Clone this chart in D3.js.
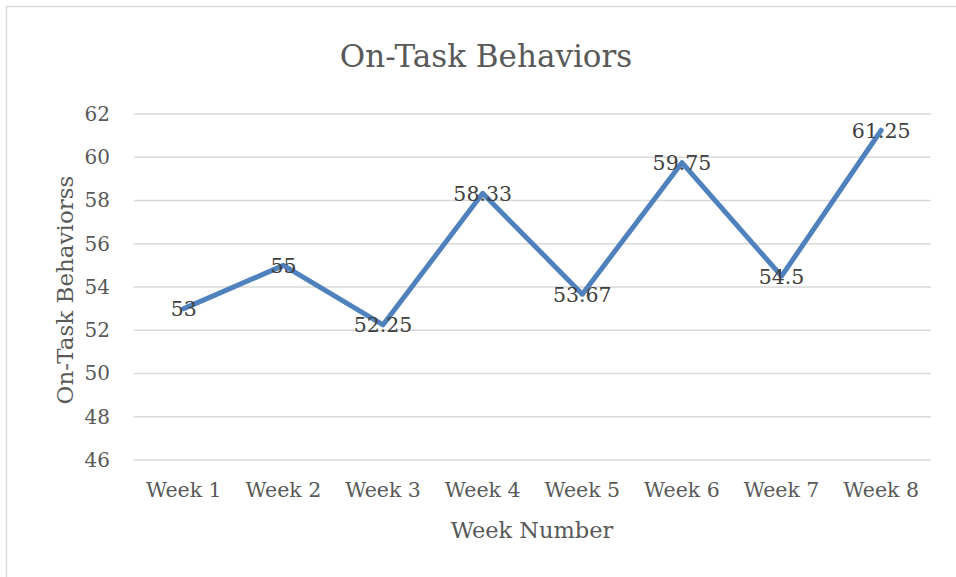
<!DOCTYPE html>
<html>
<head>
<meta charset="utf-8">
<script src="https://cdn.jsdelivr.net/npm/d3@7"></script>
<style>
  body { margin: 0; background: #fff; }
  svg text { font-family: "DejaVu Serif", serif; }
</style>
</head>
<body>
<svg id="chart"></svg>
<script>
var weeks = ["Week 1", "Week 2", "Week 3", "Week 4", "Week 5", "Week 6", "Week 7", "Week 8"];
var behaviors = [53, 55, 52.25, 58.33, 53.67, 59.75, 54.5, 61.25];
var yTicks = [46, 48, 50, 52, 54, 56, 58, 60, 62];

var width = 956, height = 577;
var margin = { left: 134, right: 25, top: 114, bottom: 117 };

var svg = d3.select("#chart")
    .attr("width", width)
    .attr("height", height);

// chart frame (only top and left edges show)
svg.append("path")
    .attr("d", "M6.5,577V6.5H956")
    .attr("fill", "none")
    .attr("stroke", "#d9d9d9")
    .attr("stroke-width", 1.5);

var x = d3.scaleBand()
    .domain(weeks)
    .range([margin.left, width - margin.right]);

var y = d3.scaleLinear()
    .domain([46, 62])
    .range([height - margin.bottom, margin.top]);

// gridlines
svg.append("g")
    .selectAll("line")
    .data(yTicks)
    .join("line")
    .attr("x1", margin.left)
    .attr("x2", width - margin.right)
    .attr("y1", function(d) { return y(d); })
    .attr("y2", function(d) { return y(d); })
    .attr("stroke", "#d9d9d9")
    .attr("stroke-width", 1.5);

// y axis
var yAxis = svg.append("g")
    .attr("transform", "translate(" + margin.left + ",0)")
    .call(d3.axisLeft(y).tickValues(yTicks).tickSize(0).tickPadding(24));
yAxis.select(".domain").remove();
yAxis.selectAll("text")
    .attr("font-family", "DejaVu Serif")
    .attr("font-size", 20)
    .attr("fill", "#595959");

// x axis
var xAxis = svg.append("g")
    .attr("transform", "translate(0," + (height - margin.bottom) + ")")
    .call(d3.axisBottom(x).tickSize(0).tickPadding(22));
xAxis.select(".domain").remove();
xAxis.selectAll("text")
    .attr("font-family", "DejaVu Serif")
    .attr("font-size", 20.5)
    .attr("fill", "#595959");

// line
var line = d3.line()
    .x(function(d, i) { return x(weeks[i]) + x.bandwidth() / 2; })
    .y(function(d) { return y(d); });

svg.append("path")
    .datum(behaviors)
    .attr("d", line)
    .attr("fill", "none")
    .attr("stroke", "#4f81bd")
    .attr("stroke-width", 5)
    .attr("stroke-linejoin", "round")
    .attr("stroke-linecap", "round");

// data labels
svg.append("g")
    .selectAll("text")
    .data(behaviors)
    .join("text")
    .attr("x", function(d, i) { return x(weeks[i]) + x.bandwidth() / 2; })
    .attr("y", function(d) { return y(d); })
    .attr("dy", "0.36em")
    .attr("text-anchor", "middle")
    .attr("font-size", 20.5)
    .attr("fill", "#404040")
    .text(function(d) { return d; });

// title
svg.append("text")
    .attr("x", 486)
    .attr("y", 67)
    .attr("text-anchor", "middle")
    .attr("font-size", 31)
    .attr("fill", "#595959")
    .text("On-Task Behaviors");

// axis titles
svg.append("text")
    .attr("x", 532)
    .attr("y", 538)
    .attr("text-anchor", "middle")
    .attr("font-size", 22.5)
    .attr("fill", "#595959")
    .text("Week Number");

svg.append("text")
    .attr("transform", "translate(73,290) rotate(-90)")
    .attr("text-anchor", "middle")
    .attr("font-size", 23)
    .attr("fill", "#595959")
    .text("On-Task Behaviorss");
</script>
</body>
</html>
